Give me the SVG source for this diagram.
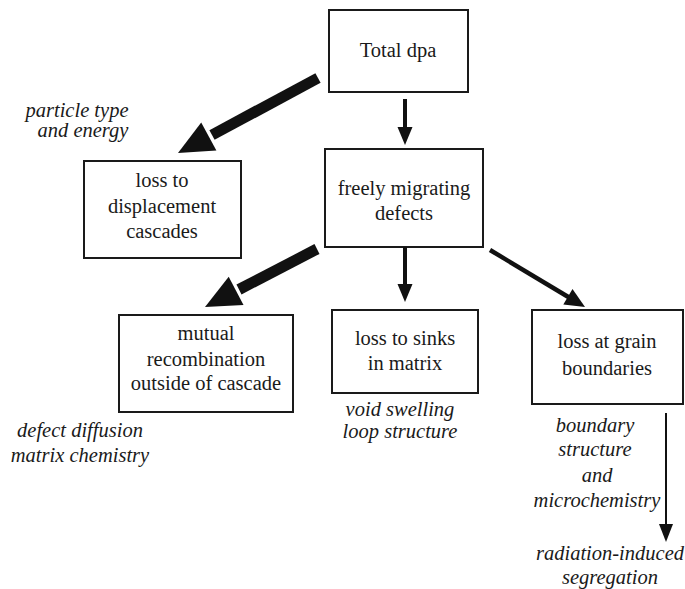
<svg xmlns="http://www.w3.org/2000/svg" width="685" height="589" viewBox="0 0 685 589">
<style>
.box{fill:#fff;stroke:#1a1a1a;stroke-width:2}
.sh{stroke:#111;fill:none}
.hd{fill:#111;stroke:none}
</style>
<rect width="685" height="589" fill="#fff"/>
<g font-family="Liberation Serif, Tinos, DejaVu Serif, Times New Roman, serif" font-size="20.5" fill="#1a1a1a" text-anchor="middle">
<g id="total-dpa">
<rect class="box" x="329" y="10" width="139" height="82"/>
<text x="398" y="57">Total dpa</text>
</g>
<g id="freely-migrating">
<rect class="box" x="325" y="149" width="158" height="98"/>
<text x="404" y="195">freely migrating</text>
<text x="404" y="220">defects</text>
</g>
<g id="displacement-cascades">
<rect class="box" x="84" y="161" width="157" height="97"/>
<text x="162" y="187">loss to</text>
<text x="162" y="213">displacement</text>
<text x="162" y="238">cascades</text>
</g>
<g id="mutual-recombination">
<rect class="box" x="119" y="315" width="174" height="97"/>
<text x="206" y="340">mutual</text>
<text x="206" y="366">recombination</text>
<text x="206" y="390">outside of cascade</text>
</g>
<g id="sinks-matrix">
<rect class="box" x="332" y="310" width="146" height="83"/>
<text x="405" y="345">loss to sinks</text>
<text x="405" y="370">in matrix</text>
</g>
<g id="grain-boundaries">
<rect class="box" x="532" y="310" width="151" height="94"/>
<text x="607" y="348">loss at grain</text>
<text x="607" y="375">boundaries</text>
</g>
<g id="labels" font-style="italic">
<text x="77" y="117">particle type</text>
<text x="83" y="137">and energy</text>
<text x="80" y="437">defect diffusion</text>
<text x="80" y="462">matrix chemistry</text>
<text x="400" y="416">void swelling</text>
<text x="400" y="438">loop structure</text>
<text x="595" y="432">boundary</text>
<text x="595" y="456">structure</text>
<text x="597" y="482">and</text>
<text x="597" y="507">microchemistry</text>
<text x="610" y="560">radiation-induced</text>
<text x="610" y="584">segregation</text>
</g>
</g>
<g id="connectors">
<line class="sh" x1="405" y1="99" x2="405" y2="130" stroke-width="4"/>
<polygon class="hd" points="397.5,127 412.5,127 405,145"/>
<line class="sh" x1="318" y1="78" x2="212" y2="135" stroke-width="11"/>
<polygon class="hd" points="178,153 201.2,122.4 216.4,150.6"/>
<line class="sh" x1="317" y1="249" x2="239" y2="289.5" stroke-width="11"/>
<polygon class="hd" points="205,307 228.7,276.7 243.5,305.1"/>
<line class="sh" x1="405" y1="247" x2="405" y2="288" stroke-width="4"/>
<polygon class="hd" points="397.5,284 412.5,284 405,302"/>
<line class="sh" x1="490" y1="250" x2="570" y2="298" stroke-width="4.5"/>
<polygon class="hd" points="585,307 563.3,304.4 572.5,289"/>
<line class="sh" x1="666" y1="413" x2="666" y2="528" stroke-width="2"/>
<polygon class="hd" points="659,524 673,524 666,542"/>
</g>
</svg>
